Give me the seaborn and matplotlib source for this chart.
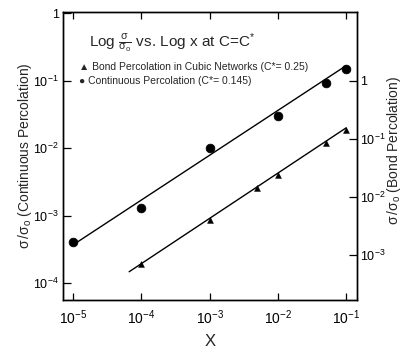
import matplotlib
matplotlib.use("Agg")
import matplotlib.pyplot as plt
import seaborn as sns
import numpy as np
import pandas as pd
from matplotlib.ticker import FixedLocator, FixedFormatter, NullLocator

sns.set_theme(style="white")
plt.rcParams['font.family'] = ['Liberation Sans', 'DejaVu Sans']
plt.rcParams['mathtext.fontset'] = 'custom'
plt.rcParams['mathtext.rm'] = 'Liberation Sans'
plt.rcParams['mathtext.it'] = 'Liberation Sans:italic'
plt.rcParams['mathtext.bf'] = 'Liberation Sans:bold'
plt.rcParams['mathtext.sf'] = 'Liberation Sans'
plt.rcParams['mathtext.default'] = 'regular'

# Continuous percolation (left axis)
cont_x = [1e-5, 1e-4, 1e-3, 1e-2, 5e-2, 1e-1]
cont_y = [4.0e-4, 1.3e-3, 1.0e-2, 3.0e-2, 9.3e-2, 0.15]
cont_fit_x = [1e-5, 1e-1]
cont_fit_y = [3.7e-4, 0.166]

# Bond percolation in cubic networks (right axis)
bond_x = [1e-4, 1e-3, 5e-3, 1e-2, 5e-2, 1e-1]
bond_y = [7.0e-4, 4.0e-3, 1.43e-2, 2.4e-2, 8.5e-2, 0.143]
bond_fit_x = [6.6e-5, 1e-1]
bond_fit_y = [5.1e-4, 0.155]

x_ticks = [1e-5, 1e-4, 1e-3, 1e-2, 1e-1]
x_tick_labels = [r"$10^{-5}$", r"$10^{-4}$", r"$10^{-3}$", r"$10^{-2}$", r"$10^{-1}$"]
left_ticks = [1, 1e-1, 1e-2, 1e-3, 1e-4]
left_tick_labels = ["1", r"$10^{-1}$", r"$10^{-2}$", r"$10^{-3}$", r"$10^{-4}$"]
right_ticks = [1, 1e-1, 1e-2, 1e-3]
right_tick_labels = ["1", r"$10^{-1}$", r"$10^{-2}$", r"$10^{-3}$"]

fig = plt.figure(figsize=(4.04, 3.54), dpi=100)
ax = fig.add_axes([63/404, 1-300/354, (357-63)/404, (300-12)/354])
ax2 = ax.twinx()

cont_df = pd.DataFrame({"x": cont_x, "y": cont_y})
cont_fit = pd.DataFrame({"x": cont_fit_x, "y": cont_fit_y})
bond_df = pd.DataFrame({"x": bond_x, "y": bond_y})
bond_fit = pd.DataFrame({"x": bond_fit_x, "y": bond_fit_y})

sns.lineplot(data=cont_fit, x="x", y="y", ax=ax, color="black", lw=1.0)
sns.scatterplot(data=cont_df, x="x", y="y", ax=ax, color="black", marker="o", s=40, edgecolor="black")
sns.lineplot(data=bond_fit, x="x", y="y", ax=ax2, color="black", lw=1.0)
sns.scatterplot(data=bond_df, x="x", y="y", ax=ax2, color="black", marker="^", s=18, edgecolor="black")

for a in (ax, ax2):
    a.set_xscale("log")
    a.set_xlim(10**-5.15, 10**-0.84)
ax.set_yscale("log")
ax2.set_yscale("log")
ax.set_ylim(10**-4.25, 10**0.015)
ax2.set_ylim(10**-3.78, 10**1.19)

ax.xaxis.set_major_locator(FixedLocator(x_ticks))
ax.xaxis.set_major_formatter(FixedFormatter(x_tick_labels))
ax.xaxis.set_minor_locator(NullLocator())
ax.yaxis.set_major_locator(FixedLocator(left_ticks))
ax.yaxis.set_major_formatter(FixedFormatter(left_tick_labels))
ax.yaxis.set_minor_locator(NullLocator())
ax2.yaxis.set_major_locator(FixedLocator(right_ticks))
ax2.yaxis.set_major_formatter(FixedFormatter(right_tick_labels))
ax2.yaxis.set_minor_locator(NullLocator())

ax.tick_params(axis="x", direction="in", top=True, bottom=True, length=5, width=0.9,
               labelsize=10, pad=6, colors="black")
ax.tick_params(axis="y", direction="in", left=True, length=6, width=0.9, labelsize=9,
               pad=3, colors="black")
ax2.tick_params(axis="y", direction="in", right=True, length=6, width=0.9, labelsize=9,
                pad=2, colors="black")

for a in (ax, ax2):
    for s in a.spines.values():
        s.set_color("black")
        s.set_linewidth(1.0)

ax.set_xlabel("X", fontsize=12, labelpad=5)
ax.set_ylabel(r"$\sigma\,/\sigma_o$ (Continuous Percolation)", fontsize=10)
ax2.set_ylabel(r"$\sigma\,/\sigma_o$ (Bond Percolation)", fontsize=10)
ax.yaxis.set_label_coords(-0.1, 0.5)
ax2.yaxis.set_label_coords(1.095, 0.52)

ax.text(0.09, 0.895, r"Log $\frac{\sigma}{\sigma_o}$ vs. Log x at C=C$^{*}$",
        transform=ax.transAxes, fontsize=11, va="center", ha="left")
ax.text(0.055, 0.81, "▲ Bond Percolation in Cubic Networks (C*= 0.25)",
        transform=ax.transAxes, fontsize=7.5, va="center", ha="left")
ax.text(0.055, 0.76, "● Continuous Percolation (C*= 0.145)",
        transform=ax.transAxes, fontsize=7.5, va="center", ha="left")

fig.savefig("out.png", dpi=100)
